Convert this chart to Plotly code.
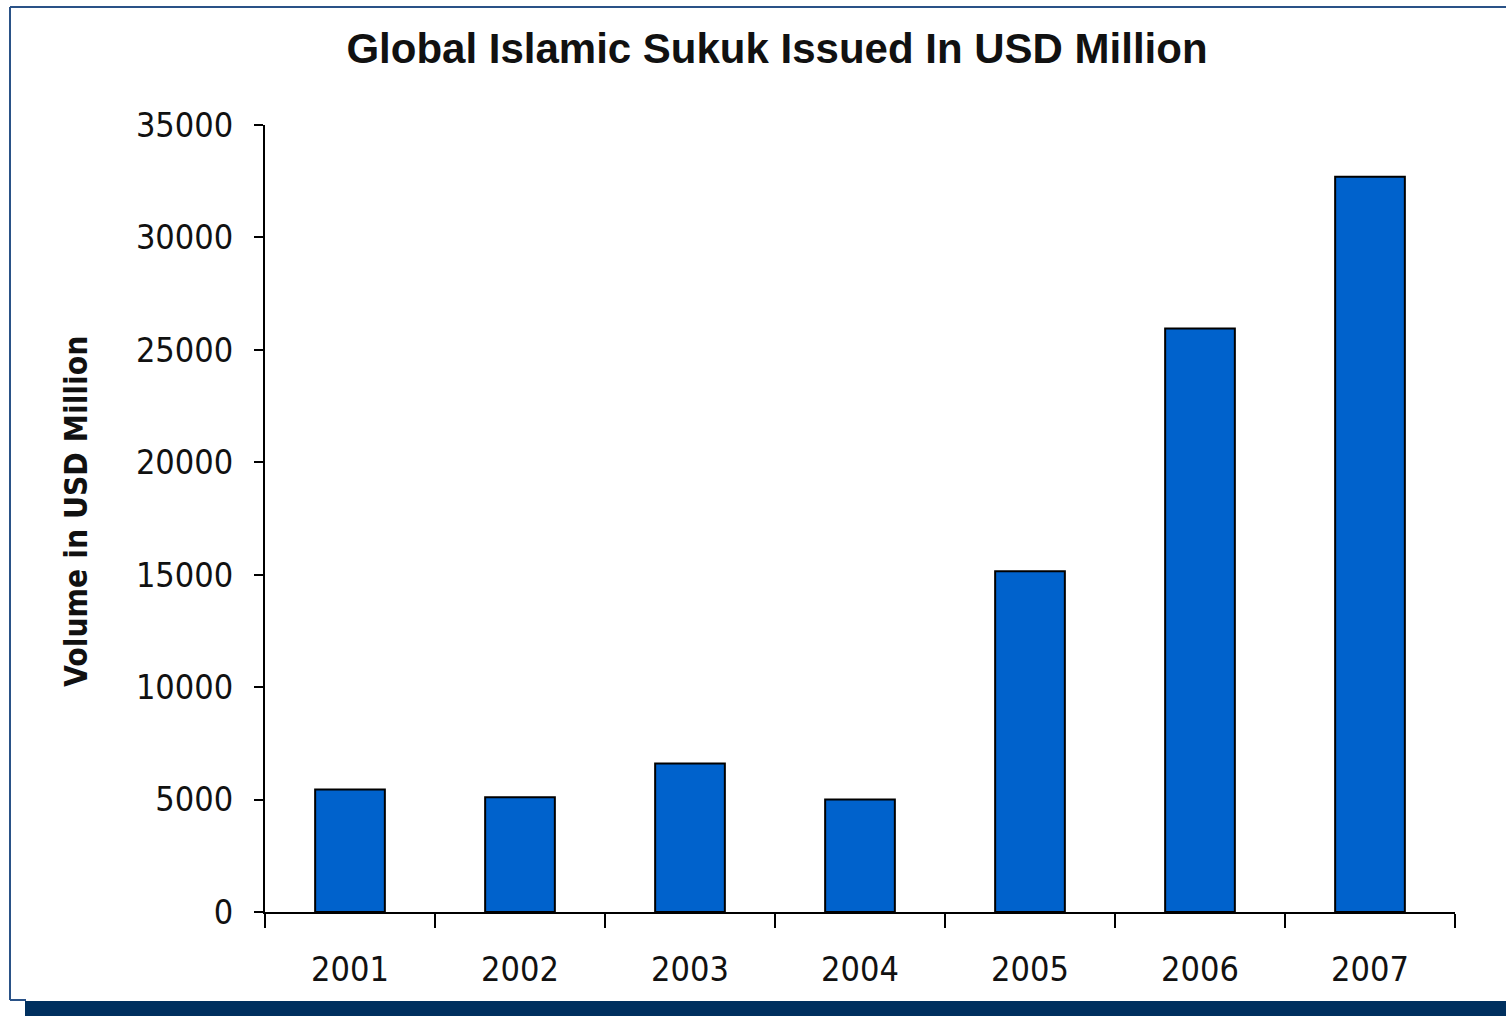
import plotly.graph_objects as go

years = ["2001", "2002", "2003", "2004", "2005", "2006", "2007"]
volume = [5450, 5100, 6600, 5000, 15150, 25950, 32700]
y_ticks = [0, 5000, 10000, 15000, 20000, 25000, 30000, 35000]
y_tick_text = ["0", "5000", "10000", "15000", "20000", "25000", "30000", "35000"]

W, H = 1506, 1016
L, R, T, B = 265, 51, 125, 104
pw, ph = W - L - R, H - T - B

def px(x):
    return (x - L) / pw

def py(y):
    return (H - B - y) / ph

narrow = "DejaVu Sans Condensed, Liberation Sans Narrow, Arial Narrow, sans-serif"

fig = go.Figure(go.Bar(
    x=years, y=volume, width=0.41,
    marker=dict(color="#0062CC", line=dict(color="#000000", width=2)),
))

frame = "#2A5287"
shapes = [
    dict(type="line", xref="paper", yref="paper", x0=px(10), x1=px(1506), y0=py(7), y1=py(7),
         line=dict(color=frame, width=2)),
    dict(type="line", xref="paper", yref="paper", x0=px(10), x1=px(10), y0=py(7), y1=py(1000),
         line=dict(color=frame, width=2)),
    dict(type="line", xref="paper", yref="paper", x0=px(10), x1=px(26), y0=py(1000), y1=py(1000),
         line=dict(color=frame, width=2)),
    dict(type="rect", xref="paper", yref="paper", x0=px(25), x1=px(1510), y0=py(1001), y1=py(1020),
         line=dict(width=0), fillcolor="#00305F"),
]

fig.update_layout(
    width=W, height=H,
    margin=dict(l=L, r=R, t=T, b=B, autoexpand=False),
    paper_bgcolor="white", plot_bgcolor="white",
    showlegend=False,
    title=dict(text="<b>Global Islamic Sukuk Issued In USD Million</b>",
               xref="container", yref="container",
               x=777 / W, xanchor="center", y=1 - 48 / H, yanchor="middle",
               font=dict(family="Liberation Sans, Arial, sans-serif", size=42, color="#111111")),
    xaxis=dict(type="category", range=[-0.5, 6.5], showline=True, linecolor="#000000", linewidth=2,
               ticks="outside", tickson="boundaries", ticklen=14, tickwidth=2, tickcolor="#000000",
               showgrid=False, zeroline=False, ticklabelstandoff=26,
               tickfont=dict(family=narrow, size=34, color="#111111")),
    yaxis=dict(range=[0, 35000], tickvals=y_ticks, ticktext=y_tick_text,
               showline=True, linecolor="#000000", linewidth=2,
               ticks="outside", ticklen=9, tickwidth=2, tickcolor="#000000",
               showgrid=False, zeroline=False, ticklabelstandoff=14,
               tickfont=dict(family=narrow, size=34, color="#111111")),
    shapes=shapes,
    annotations=[dict(text="<b>Volume in USD Million</b>", xref="paper", yref="paper",
                      x=px(76), y=py(512), textangle=-90, showarrow=False,
                      xanchor="center", yanchor="middle",
                      font=dict(family=narrow, size=31.5, color="#111111"))],
)

fig.write_html("out.html")
